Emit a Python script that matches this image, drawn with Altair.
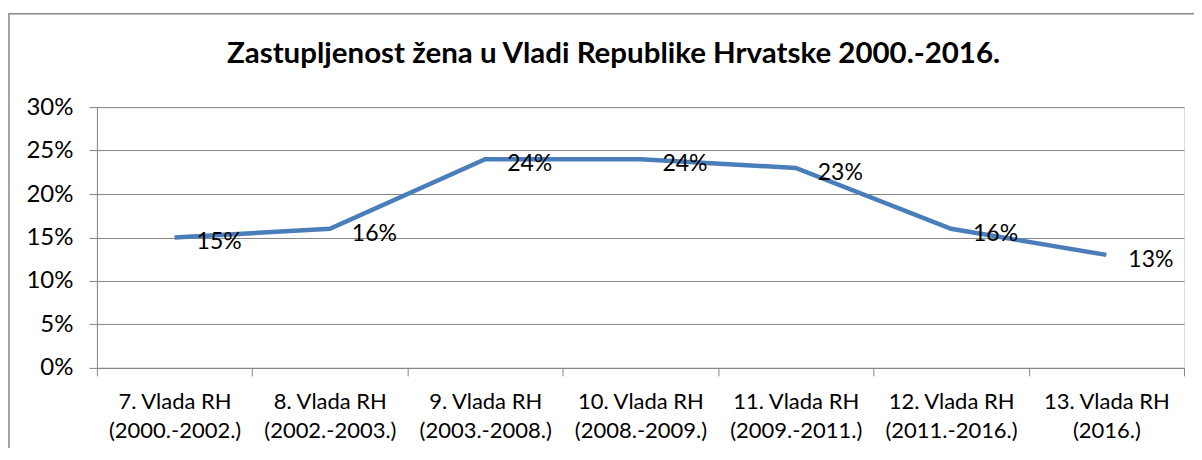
import altair as alt
import pandas as pd

categories = [
    "7. Vlada RH|(2000.-2002.)",
    "8. Vlada RH|(2002.-2003.)",
    "9. Vlada RH|(2003.-2008.)",
    "10. Vlada RH|(2008.-2009.)",
    "11. Vlada RH|(2009.-2011.)",
    "12. Vlada RH|(2011.-2016.)",
    "13. Vlada RH|(2016.)",
]
values = [0.15, 0.16, 0.24, 0.24, 0.23, 0.16, 0.13]
value_labels = ["15%", "16%", "24%", "24%", "23%", "16%", "13%"]
y_ticks = [0, 0.05, 0.10, 0.15, 0.20, 0.25, 0.30]
title_text = "Zastupljenost žena u Vladi Republike Hrvatske 2000.-2016."

df = pd.DataFrame({"cat": categories, "val": values, "lab": value_labels})

FONT = "Lato"
GRID = "#868686"

x_enc = alt.X(
    "cat:N",
    sort=categories,
    bandPosition=0.5,
    scale=alt.Scale(type="band", paddingInner=0, paddingOuter=0),
    axis=alt.Axis(
        title=None,
        labelExpr="split(datum.label, '|')",
        labelAngle=0,
        labelFont=FONT,
        labelFontSize=22,
        labelColor="#000000",
        labelLineHeight=29,
        labelPadding=16,
        tickBand="extent",
        tickSize=8,
        tickColor=GRID,
        domainColor=GRID,
        grid=False,
    ),
)
y_enc = alt.Y(
    "val:Q",
    scale=alt.Scale(domain=[0, 0.3]),
    axis=alt.Axis(
        title=None,
        values=y_ticks,
        format=".0%",
        labelFont=FONT,
        labelFontSize=24,
        labelColor="#000000",
        labelPadding=16,
        tickSize=8,
        tickColor=GRID,
        domainColor=GRID,
        grid=True,
        gridColor=GRID,
    ),
)

base = alt.Chart(df)
line = base.mark_line(color="#4A7EBB", strokeWidth=4.5).encode(x=x_enc, y=y_enc)
text = base.mark_text(
    align="left", baseline="middle", dx=22, dy=5, fontSize=23, font=FONT, color="#000000"
).encode(x=x_enc, y=y_enc, text="lab:N")

single = alt.Chart(pd.DataFrame({"t": [title_text]}))
border = single.mark_rect(fill=None, stroke=GRID, strokeWidth=1.5).encode(
    x=alt.value(-88), x2=alt.value(1110), y=alt.value(-93.5), y2=alt.value(360)
)
title = single.mark_text(
    align="center", baseline="alphabetic", fontSize=29.5, fontWeight="bold", font=FONT, color="#000000"
).encode(x=alt.value(517), y=alt.value(-44), text="t:N")

chart = alt.layer(border, title, line, text).properties(
    width=1088,
    height=261,
    autosize=alt.AutoSizeParams(type="none"),
    padding={"left": 89, "top": 99, "right": 10, "bottom": 80},
).configure_view(stroke=None).configure(background="white")

chart.save("out.html", embed_options={"renderer": "svg", "actions": False})
